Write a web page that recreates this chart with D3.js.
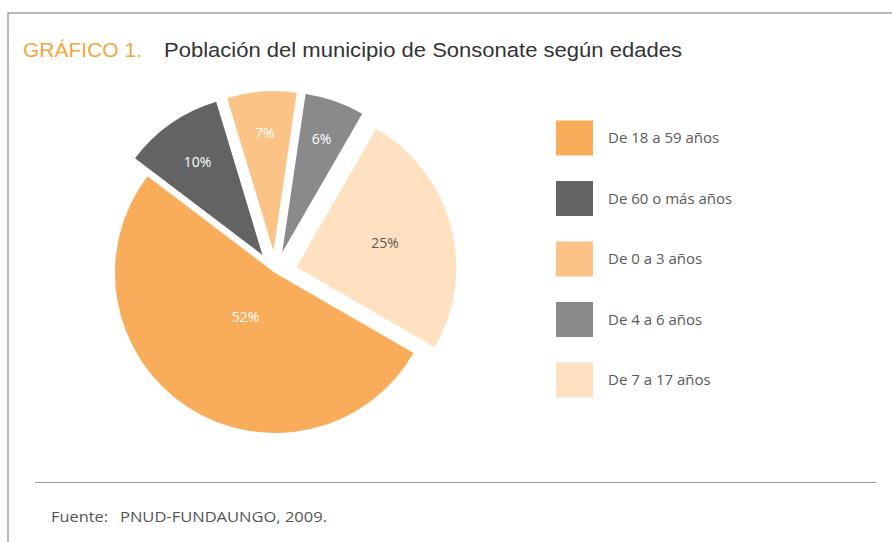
<!doctype html>
<html lang="es">
<head>
<meta charset="utf-8">
<script src="https://cdn.jsdelivr.net/npm/d3@7"></script>
<style>
  body { margin: 0; background: #fff; }
  svg text { font-family: "Open Sans", "Noto Sans", sans-serif; }
</style>
</head>
<body>
<div id="chart"></div>
<script>
// datos del grafico
var categories = ["De 18 a 59 años", "De 60 o más años", "De 0 a 3 años", "De 4 a 6 años", "De 7 a 17 años"];
var shares = [52, 10, 7, 6, 25];
var sliceColors = ["#f9ad5a", "#636366", "#fbc386", "#8a8a8d", "#fde1c1"];
var labelColors = ["#fff", "#fff", "#fff", "#fff", "#5a5a5a"];

var width = 892, height = 542;
var svg = d3.select("#chart").append("svg")
    .attr("width", width).attr("height", height);

// marco
svg.append("path")
    .attr("d", "M8,542 V13 H892")
    .attr("fill", "none").attr("stroke", "#a3a3a3").attr("stroke-width", 1.5);

// titulo
var title = svg.append("text").attr("y", 57).style("font-family", "'Liberation Sans', Arial, sans-serif")
    .style("font-size", "20.5px");
title.append("tspan").attr("x", 23).attr("fill", "#f8a440")
    .attr("textLength", 119).attr("lengthAdjust", "spacingAndGlyphs").text("GRÁFICO 1.");
title.append("tspan").attr("x", 164).attr("fill", "#333")
    .attr("textLength", 518).attr("lengthAdjust", "spacingAndGlyphs")
    .text("Población del municipio de Sonsonate según edades");

// pastel
var cx = 275, cy = 273, radius = 160, explode = 22;
var data = categories.map(function(c, i) { return {name: c, value: shares[i], color: sliceColors[i], label: labelColors[i]}; });
var maxValue = d3.max(shares);

var start = 120 * Math.PI / 180;
var pie = d3.pie().sort(null).value(function(d) { return d.value; })
    .startAngle(start).endAngle(start + 2 * Math.PI);
var arc = d3.arc().innerRadius(0).outerRadius(radius);
var arcs = pie(data);

function offset(d) {
  var a = (d.startAngle + d.endAngle) / 2;
  var k = d.data.value === maxValue ? 0 : explode;
  return [Math.sin(a) * k, -Math.cos(a) * k];
}

var g = svg.append("g").attr("transform", "translate(" + cx + "," + cy + ")");
var slice = g.selectAll("g.slice").data(arcs).enter().append("g")
    .attr("class", "slice")
    .attr("transform", function(d) { var o = offset(d); return "translate(" + o[0] + "," + o[1] + ")"; });

slice.append("path").attr("d", arc).attr("fill", function(d) { return d.data.color; });

// bigger slices get their label closer to the tip
slice.append("text")
    .attr("transform", function(d) {
      var a = (d.startAngle + d.endAngle) / 2;
      var lr = radius * (0.8 - 0.9 * d.data.value / 100);
      return "translate(" + Math.sin(a) * lr + "," + (-Math.cos(a) * lr) + ")";
    })
    .attr("text-anchor", "middle").attr("dy", "0.35em")
    .style("font-size", "14px")
    .attr("fill", function(d) { return d.data.label; })
    .text(function(d) { return d.data.value + "%"; });

// leyenda
var legendY = d3.scalePoint().domain(categories).range([138, 380]);
var legend = svg.selectAll("g.legend").data(data).enter().append("g")
    .attr("class", "legend")
    .attr("transform", function(d) { return "translate(556," + legendY(d.name) + ")"; });
legend.append("rect").attr("x", 0).attr("y", -17.5).attr("width", 37).attr("height", 35)
    .attr("fill", function(d) { return d.color; });
legend.append("text").attr("x", 52).attr("dy", "0.35em")
    .style("font-size", "15px").attr("fill", "#5a5a5a")
    .text(function(d) { return d.name; });

// pie de grafico
svg.append("line").attr("x1", 35).attr("x2", 876).attr("y1", 482.5).attr("y2", 482.5)
    .attr("stroke", "#9a9a9a").attr("stroke-width", 1);
var src = svg.append("text").attr("y", 522).style("font-size", "15px").attr("fill", "#555");
src.append("tspan").attr("x", 51).attr("textLength", 57).attr("lengthAdjust", "spacingAndGlyphs").text("Fuente:");
src.append("tspan").attr("x", 120).attr("textLength", 207).attr("lengthAdjust", "spacingAndGlyphs").text("PNUD-FUNDAUNGO, 2009.");
</script>
</body>
</html>
